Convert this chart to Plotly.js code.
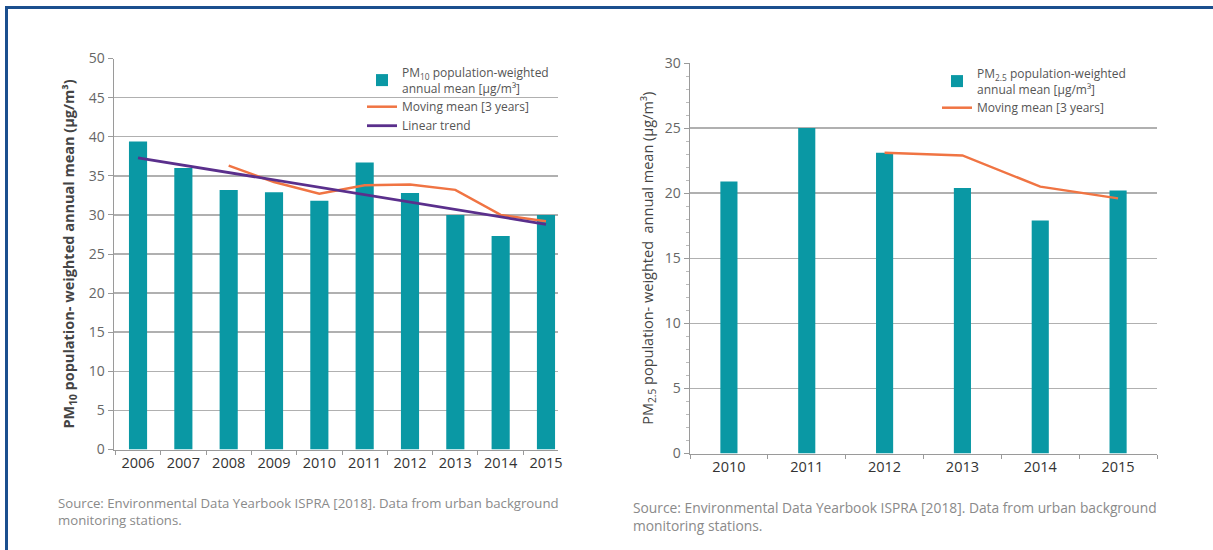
<!DOCTYPE html>
<html>
<head>
<meta charset="utf-8">
<script src="https://cdn.plot.ly/plotly-3.0.1.min.js"></script>
<style>
html,body{margin:0;padding:0;background:#fff;}
#chart{width:1213px;height:550px;}
</style>
</head>
<body>
<div id="chart"></div>
<script>
// ---- Data ----
const yearsPM10 = [2006, 2007, 2008, 2009, 2010, 2011, 2012, 2013, 2014, 2015];
const pm10Values = [39.4, 36.0, 33.2, 32.9, 31.8, 36.7, 32.8, 30.0, 27.3, 30.0];
const pm10MovingYears = [2008, 2009, 2010, 2011, 2012, 2013, 2014, 2015];
const pm10MovingMean = [36.3, 34.2, 32.7, 33.8, 33.9, 33.2, 30.0, 29.2];
const pm10TrendYears = [2006, 2015];
const pm10TrendValues = [37.3, 28.8];

const yearsPM25 = [2010, 2011, 2012, 2013, 2014, 2015];
const pm25Values = [20.9, 25.0, 23.1, 20.4, 17.9, 20.2];
const pm25MovingYears = [2012, 2013, 2014, 2015];
const pm25MovingMean = [23.1, 22.9, 20.5, 19.6];

const sourceText = "Source: Environmental Data Yearbook ISPRA [2018]. Data from urban background<br>monitoring stations.";

// ---- Styles ----
const W = 1213, H = 550;
const teal = "#0a98a4";
const orange = "#f07443";
const purple = "#5a2f8c";
const gridCol = "#b0b0b0";
const axisCol = "#9a9a9a";
const FONT = "Open Sans, Noto Sans, sans-serif";
const px = v => v / W;
const py = v => 1 - v / H;

const traces = [
  {type: "bar", x: yearsPM10, y: pm10Values, width: 0.40, marker: {color: teal},
   name: "PM<sub>10</sub> population-weighted<br>annual mean [µg/m³]",
   xaxis: "x", yaxis: "y", legend: "legend"},
  {type: "scatter", mode: "lines", x: pm10MovingYears, y: pm10MovingMean,
   line: {color: orange, width: 2.5}, name: "Moving mean [3 years]",
   xaxis: "x", yaxis: "y", legend: "legend"},
  {type: "scatter", mode: "lines", x: pm10TrendYears, y: pm10TrendValues,
   line: {color: purple, width: 2.8}, name: "Linear trend",
   xaxis: "x", yaxis: "y", legend: "legend"},
  {type: "bar", x: yearsPM25, y: pm25Values, width: 0.22, marker: {color: teal},
   name: "PM<sub>2.5</sub> population-weighted<br>annual mean [µg/m³]",
   xaxis: "x2", yaxis: "y2", legend: "legend2"},
  {type: "scatter", mode: "lines", x: pm25MovingYears, y: pm25MovingMean,
   line: {color: orange, width: 2.5}, name: "Moving mean [3 years]",
   xaxis: "x2", yaxis: "y2", legend: "legend2"}
];

const xCommon = {
  type: "linear", dtick: 1, tick0: 2006, showgrid: false, zeroline: false,
  showline: true, linecolor: axisCol, linewidth: 1.5, ticks: "",
  tickfont: {family: FONT, size: 14.5, color: "#333"},
  minor: {tick0: 2005.5, dtick: 1, ticks: "outside", ticklen: 4, tickcolor: axisCol, showgrid: false},
  fixedrange: true
};
const yCommon = {
  showgrid: true, gridcolor: gridCol, gridwidth: 1.5, zeroline: false,
  showline: true, linecolor: axisCol, linewidth: 1.5,
  ticks: "outside", ticklen: 5, tickcolor: axisCol,
  tickfont: {family: FONT, size: 14, color: "#666"},
  fixedrange: true
};

const layout = {
  width: W, height: H,
  margin: {l: 0, r: 0, t: 0, b: 0},
  paper_bgcolor: "#fff", plot_bgcolor: "rgba(0,0,0,0)",
  font: {family: FONT, color: "#555"},
  barmode: "overlay",
  xaxis: Object.assign({}, xCommon, {
    domain: [px(114), px(558)], range: [2005.47, 2015.265], anchor: "y"
  }),
  yaxis: Object.assign({}, yCommon, {
    domain: [py(449.5), py(58.5)], range: [0, 50], dtick: 5, anchor: "x",
    title: {text: "<b>PM<sub>10</sub> population- weighted annual mean (µg/m³)</b>",
            font: {family: FONT, size: 14.5, color: "#444"}, standoff: 10}
  }),
  xaxis2: Object.assign({}, xCommon, {
    domain: [px(690), px(1157)], range: [2009.5, 2015.5], anchor: "y2"
  }),
  yaxis2: Object.assign({}, yCommon, {
    domain: [py(453.5), py(63)], range: [0, 30], dtick: 5, anchor: "x2",
    minor: {dtick: 1, ticks: "outside", ticklen: 3, tickcolor: "#bbb", showgrid: false},
    title: {text: "PM<sub>2.5</sub> population- weighted  annual mean (µg/m³)",
            font: {family: FONT, size: 14.5, color: "#444"}, standoff: 7}
  }),
  legend: {
    x: px(362), y: py(58), xanchor: "left", yanchor: "top",
    bgcolor: "rgba(0,0,0,0)", font: {family: FONT, size: 12, color: "#555"},
    tracegroupgap: 0, itemclick: false, itemdoubleclick: false
  },
  legend2: {
    x: px(937), y: py(59), xanchor: "left", yanchor: "top",
    bgcolor: "rgba(0,0,0,0)", font: {family: FONT, size: 12, color: "#555"},
    tracegroupgap: 0, itemclick: false, itemdoubleclick: false
  },
  showlegend: true,
  annotations: [
    {text: sourceText, xref: "paper", yref: "paper", x: px(56), y: py(492),
     xanchor: "left", yanchor: "top", align: "left", showarrow: false,
     font: {family: FONT, size: 13.2, color: "#8a8a8a"}},
    {text: sourceText, xref: "paper", yref: "paper", x: px(631), y: py(496),
     xanchor: "left", yanchor: "top", align: "left", showarrow: false,
     font: {family: FONT, size: 13.8, color: "#8a8a8a"}}
  ],
  shapes: [
    {type: "rect", xref: "paper", yref: "paper", x0: px(6.5), x1: 1.05, y0: -0.05, y1: py(7.5),
     line: {color: "#1b4f8e", width: 3}, fillcolor: "rgba(0,0,0,0)", layer: "above"}
  ]
};

Plotly.newPlot("chart", traces, layout, {staticPlot: true, displayModeBar: false});
</script>
</body>
</html>
